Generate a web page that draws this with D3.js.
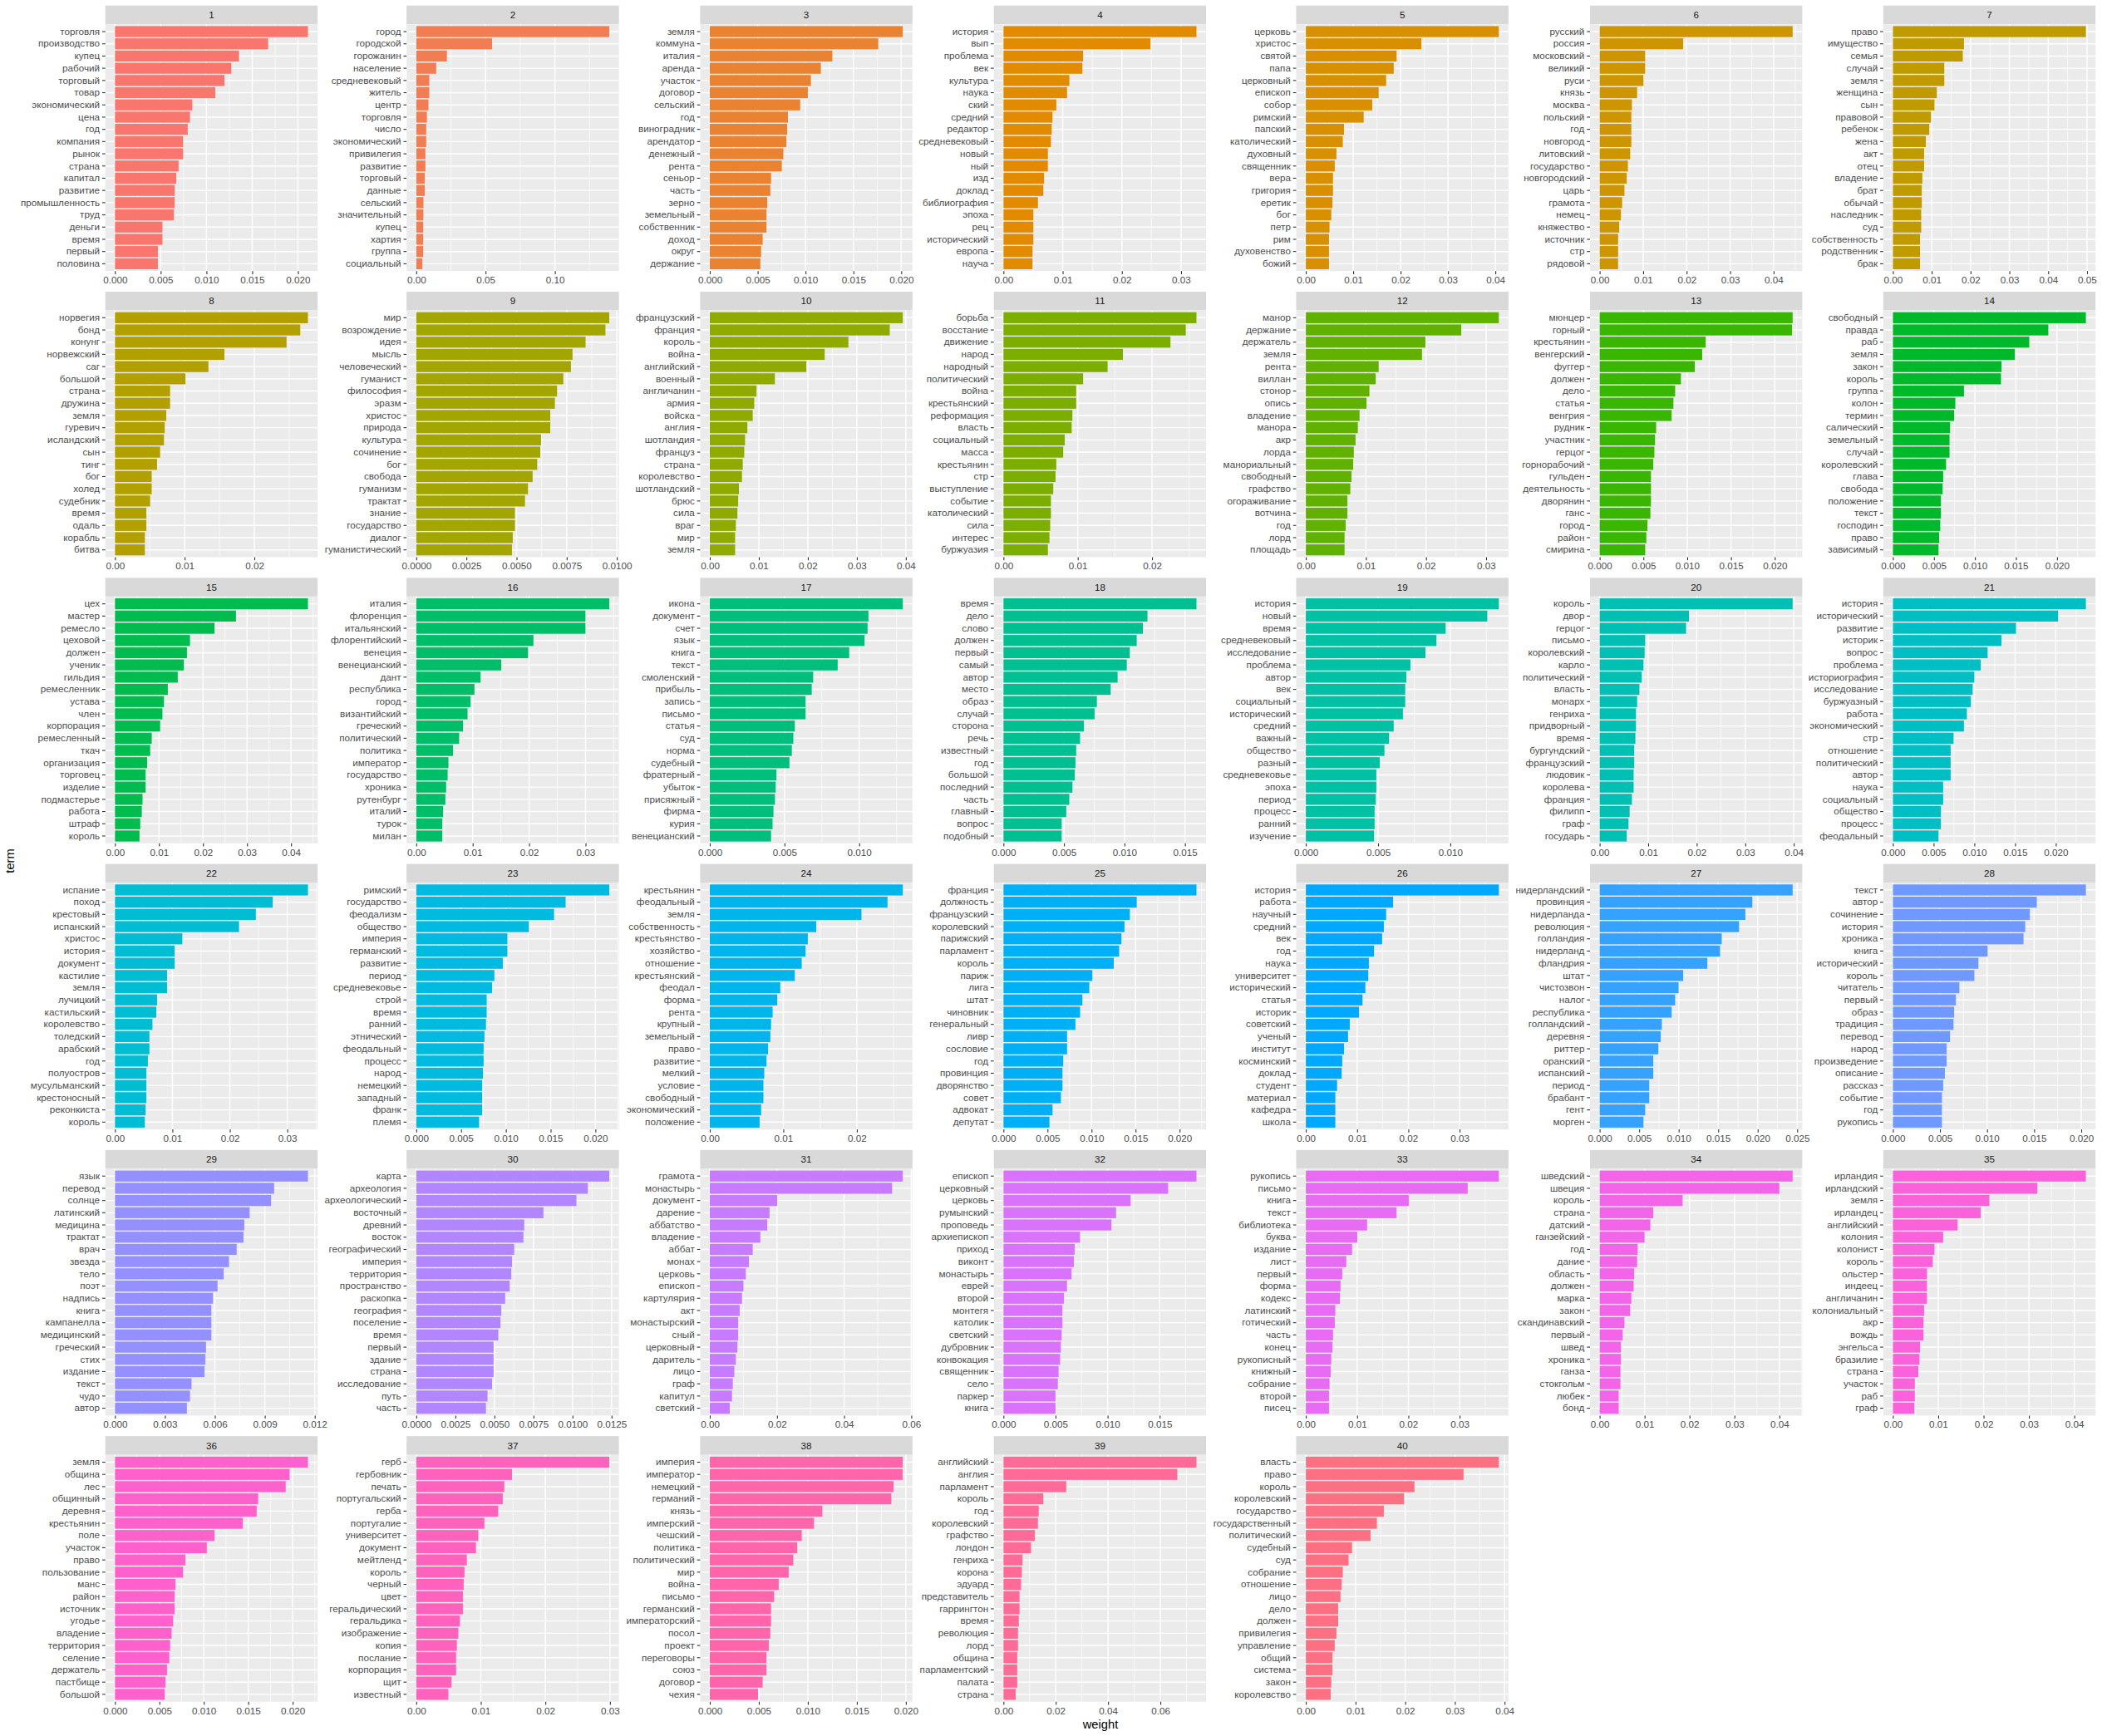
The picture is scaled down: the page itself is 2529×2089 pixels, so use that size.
<!DOCTYPE html>
<html><head><meta charset="utf-8">
<script src="https://cdn.jsdelivr.net/npm/d3@7"></script>
<style>body{margin:0;background:#fff}svg{display:block}</style>
</head><body>
<script>
const topicLabels = d3.range(1, 41).map(String);
const terms = [
["торговля","производство","купец","рабочий","торговый","товар","экономический","цена","год","компания","рынок","страна","капитал","развитие","промышленность","труд","деньги","время","первый","половина"],
["город","городской","горожанин","население","средневековый","житель","центр","торговля","число","экономический","привилегия","развитие","торговый","данные","сельский","значительный","купец","хартия","группа","социальный"],
["земля","коммуна","италия","аренда","участок","договор","сельский","год","виноградник","арендатор","денежный","рента","сеньор","часть","зерно","земельный","собственник","доход","округ","держание"],
["история","вып","проблема","век","культура","наука","ский","средний","редактор","средневековый","новый","ный","изд","доклад","библиография","эпоха","рец","исторический","европа","науча"],
["церковь","христос","святой","папа","церковный","епископ","собор","римский","папский","католический","духовный","священник","вера","григория","еретик","бог","петр","рим","духовенство","божий"],
["русский","россия","московский","великий","руси","князь","москва","польский","год","новгород","литовский","государство","новгородский","царь","грамота","немец","княжество","источник","стр","рядовой"],
["право","имущество","семья","случай","земля","женщина","сын","правовой","ребенок","жена","акт","отец","владение","брат","обычай","наследник","суд","собственность","родственник","брак"],
["норвегия","бонд","конунг","норвежский","саг","большой","страна","дружина","земля","гуревич","исландский","сын","тинг","бог","холед","судебник","время","одаль","корабль","битва"],
["мир","возрождение","идея","мысль","человеческий","гуманист","философия","эразм","христос","природа","культура","сочинение","бог","свобода","гуманизм","трактат","знание","государство","диалог","гуманистический"],
["французский","франция","король","война","английский","военный","англичанин","армия","войска","англия","шотландия","француз","страна","королевство","шотландский","брюс","сила","враг","мир","земля"],
["борьба","восстание","движение","народ","народный","политический","война","крестьянский","реформация","власть","социальный","масса","крестьянин","стр","выступление","событие","католический","сила","интерес","буржуазия"],
["манор","держание","держатель","земля","рента","виллан","стонор","опись","владение","манора","акр","лорда","манориальный","свободный","графство","огораживание","вотчина","год","лорд","площадь"],
["мюнцер","горный","крестьянин","венгерский","фуггер","должен","дело","статья","венгрия","рудник","участник","герцог","горнорабочий","гульден","деятельность","дворянин","ганс","город","район","смирина"],
["свободный","правда","раб","земля","закон","король","группа","колон","термин","салический","земельный","случай","королевский","глава","свобода","положение","текст","господин","право","зависимый"],
["цех","мастер","ремесло","цеховой","должен","ученик","гильдия","ремесленник","устава","член","корпорация","ремесленный","ткач","организация","торговец","изделие","подмастерье","работа","штраф","король"],
["италия","флоренция","итальянский","флорентийский","венеция","венецианский","дант","республика","город","византийский","греческий","политический","политика","император","государство","хроника","рутенбург","италий","турок","милан"],
["икона","документ","счет","язык","книга","текст","смоленский","прибыль","запись","письмо","статья","суд","норма","судебный","фратерный","убыток","присяжный","фирма","курия","венецианский"],
["время","дело","слово","должен","первый","самый","автор","место","образ","случай","сторона","речь","известный","год","большой","последний","часть","главный","вопрос","подобный"],
["история","новый","время","средневековый","исследование","проблема","автор","век","социальный","исторический","средний","важный","общество","разный","средневековье","эпоха","период","процесс","ранний","изучение"],
["король","двор","герцог","письмо","королевский","карло","политический","власть","монарх","генриха","придворный","время","бургундский","французский","людовик","королева","франция","филипп","граф","государь"],
["история","исторический","развитие","историк","вопрос","проблема","историография","исследование","буржуазный","работа","экономический","стр","отношение","политический","автор","наука","социальный","общество","процесс","феодальный"],
["испание","поход","крестовый","испанский","христос","история","документ","кастилие","земля","лучицкий","кастильский","королевство","толедский","арабский","год","полуостров","мусульманский","крестоносный","реконкиста","король"],
["римский","государство","феодализм","общество","империя","германский","развитие","период","средневековье","строй","время","ранний","этнический","феодальный","процесс","народ","немецкий","западный","франк","племя"],
["крестьянин","феодальный","земля","собственность","крестьянство","хозяйство","отношение","крестьянский","феодал","форма","рента","крупный","земельный","право","развитие","мелкий","условие","свободный","экономический","положение"],
["франция","должность","французский","королевский","парижский","парламент","король","париж","лига","штат","чиновник","генеральный","ливр","сословие","год","провинция","дворянство","совет","адвокат","депутат"],
["история","работа","научный","средний","век","год","наука","университет","исторический","статья","историк","советский","ученый","институт","косминский","доклад","студент","материал","кафедра","школа"],
["нидерландский","провинция","нидерланда","революция","голландия","нидерланд","фландрия","штат","чистозвон","налог","республика","голландский","деревня","риттер","оранский","испанский","период","брабант","гент","морген"],
["текст","автор","сочинение","история","хроника","книга","исторический","король","читатель","первый","образ","традиция","перевод","народ","произведение","описание","рассказ","событие","год","рукопись"],
["язык","перевод","солнце","латинский","медицина","трактат","врач","звезда","тело","поэт","надпись","книга","кампанелла","медицинский","греческий","стих","издание","текст","чудо","автор"],
["карта","археология","археологический","восточный","древний","восток","географический","империя","территория","пространство","раскопка","география","поселение","время","первый","здание","страна","исследование","путь","часть"],
["грамота","монастырь","документ","дарение","аббатство","владение","аббат","монах","церковь","епископ","картулярия","акт","монастырский","сный","церковный","даритель","лицо","граф","капитул","светский"],
["епископ","церковный","церковь","румынский","проповедь","архиепископ","приход","виконт","монастырь","еврей","второй","монтегя","католик","светский","дубровник","конвокация","священник","село","паркер","книга"],
["рукопись","письмо","книга","текст","библиотека","буква","издание","лист","первый","форма","кодекс","латинский","готический","часть","конец","рукописный","книжный","собрание","второй","писец"],
["шведский","швеция","король","страна","датский","ганзейский","год","дание","область","должен","марка","закон","скандинавский","первый","швед","хроника","ганза","стокгольм","любек","бонд"],
["ирландия","ирландский","земля","ирландец","английский","колония","колонист","король","ольстер","индеец","англичанин","колониальный","акр","вождь","энгельса","бразилие","страна","участок","раб","граф"],
["земля","община","лес","общинный","деревня","крестьянин","поле","участок","право","пользование","манс","район","источник","угодье","владение","территория","селение","держатель","пастбище","большой"],
["герб","гербовник","печать","португальский","герба","португалие","университет","документ","мейтленд","король","черный","цвет","геральдический","геральдика","изображение","копия","послание","корпорация","щит","известный"],
["империя","император","немецкий","германий","князь","имперский","чешский","политика","политический","мир","война","письмо","германский","императорский","посол","проект","переговоры","союз","договор","чехия"],
["английский","англия","парламент","король","год","королевский","графство","лондон","генриха","корона","эдуард","представитель","гаррингтон","время","революция","лорд","община","парламентский","палата","страна"],
["власть","право","король","королевский","государство","государственный","политический","судебный","суд","собрание","отношение","лицо","дело","должен","привилегия","управление","общий","система","закон","королевство"]
];
const weights = [
[0.02109,0.01674,0.01356,0.01272,0.01197,0.01096,0.00845,0.0082,0.00795,0.00745,0.00745,0.00695,0.0067,0.00653,0.00653,0.00644,0.00519,0.00519,0.00469,0.00469],
[0.1392,0.0547,0.0221,0.0144,0.0094,0.0094,0.0088,0.0077,0.0072,0.0072,0.0066,0.0066,0.0061,0.0061,0.0052,0.0051,0.005,0.005,0.005,0.0044],
[0.02016,0.0176,0.0128,0.0116,0.01056,0.01024,0.00944,0.00816,0.00808,0.008,0.00768,0.00752,0.0064,0.00632,0.006,0.00592,0.00592,0.00552,0.00536,0.00528],
[0.0326,0.02484,0.01345,0.01333,0.01113,0.01074,0.00893,0.00828,0.00815,0.00802,0.0075,0.0075,0.00686,0.00673,0.00582,0.00505,0.00505,0.00505,0.00492,0.00492],
[0.04073,0.02439,0.01915,0.01854,0.01695,0.01537,0.01402,0.0122,0.00805,0.0078,0.00646,0.0061,0.00573,0.00573,0.00561,0.00537,0.005,0.00488,0.00488,0.00488],
[0.04437,0.0192,0.01046,0.01046,0.01007,0.00861,0.00742,0.00728,0.00728,0.00728,0.00702,0.00649,0.00623,0.0057,0.00517,0.0049,0.0045,0.00424,0.00424,0.00424],
[0.0497,0.0183,0.018,0.01324,0.01324,0.01131,0.01071,0.00982,0.00937,0.00848,0.00804,0.00804,0.00759,0.00744,0.00744,0.00729,0.00729,0.00699,0.00699,0.00699],
[0.02769,0.02659,0.02462,0.01571,0.01341,0.01011,0.00791,0.00791,0.00736,0.00714,0.00703,0.00648,0.00604,0.00527,0.00527,0.00505,0.0045,0.0045,0.00429,0.00429],
[0.00962,0.00943,0.00844,0.00779,0.00771,0.00733,0.00702,0.00691,0.00668,0.00668,0.00622,0.00618,0.00603,0.0058,0.00557,0.00542,0.00492,0.00492,0.00481,0.00477],
[0.03938,0.03672,0.02828,0.02344,0.01969,0.01328,0.00953,0.00906,0.00875,0.00766,0.00719,0.00703,0.00672,0.00656,0.00594,0.00578,0.00563,0.00531,0.00516,0.00516],
[0.02598,0.02454,0.02248,0.01608,0.01402,0.01072,0.00979,0.00979,0.00928,0.00918,0.00825,0.00804,0.00711,0.00701,0.0067,0.00639,0.00639,0.00629,0.00619,0.00598],
[0.03212,0.02587,0.0199,0.01933,0.01212,0.01163,0.01058,0.0101,0.00894,0.00865,0.00827,0.00798,0.00788,0.0076,0.0074,0.00692,0.00692,0.00663,0.00644,0.00644],
[0.02204,0.02197,0.01211,0.01171,0.01086,0.00928,0.00862,0.00842,0.00822,0.00645,0.00632,0.00625,0.00612,0.00586,0.00586,0.00586,0.00579,0.00546,0.00533,0.0052],
[0.02352,0.01894,0.01662,0.01486,0.01324,0.01317,0.00866,0.00761,0.00746,0.00697,0.0069,0.0069,0.00648,0.00613,0.00606,0.00585,0.00585,0.00577,0.00563,0.00556],
[0.04383,0.02748,0.02261,0.01704,0.01635,0.01565,0.01426,0.012,0.01113,0.01078,0.01026,0.00835,0.008,0.0073,0.00696,0.00696,0.00626,0.00609,0.00574,0.00557],
[0.0342,0.02999,0.02999,0.02076,0.01981,0.01506,0.0114,0.01031,0.00963,0.00909,0.00828,0.0076,0.00651,0.0057,0.00556,0.00529,0.00516,0.00475,0.00461,0.00461],
[0.01292,0.01062,0.01056,0.01036,0.00933,0.00856,0.00692,0.00682,0.00641,0.00641,0.00569,0.00559,0.00549,0.00533,0.00446,0.00441,0.00436,0.00426,0.0042,0.0041],
[0.01595,0.0119,0.01152,0.01101,0.01044,0.01019,0.00943,0.00886,0.00772,0.00753,0.00665,0.00633,0.00601,0.00595,0.00589,0.0057,0.00544,0.00519,0.00481,0.00481],
[0.01336,0.01256,0.00968,0.00904,0.00828,0.00724,0.00696,0.00688,0.00688,0.00672,0.00608,0.00576,0.00544,0.00512,0.00488,0.00488,0.00484,0.00476,0.00476,0.00472],
[0.03976,0.0184,0.0178,0.00938,0.00926,0.00902,0.00867,0.00819,0.00772,0.00748,0.00748,0.00736,0.00712,0.00712,0.007,0.007,0.00665,0.00617,0.00594,0.00558],
[0.02369,0.02028,0.01511,0.01333,0.01163,0.01078,0.01,0.00979,0.00957,0.00908,0.00872,0.00745,0.00709,0.00709,0.00709,0.00617,0.00617,0.00589,0.00589,0.0056],
[0.0336,0.02747,0.02453,0.0216,0.01173,0.0104,0.0104,0.00907,0.00907,0.00733,0.0072,0.00653,0.006,0.006,0.00573,0.00547,0.00547,0.00547,0.00533,0.0052],
[0.02154,0.01667,0.01538,0.01256,0.01017,0.01017,0.00966,0.00872,0.00846,0.00786,0.00786,0.00778,0.00761,0.00752,0.00752,0.00744,0.00735,0.00735,0.00735,0.00701],
[0.02625,0.02417,0.02063,0.01448,0.01333,0.01302,0.0125,0.01156,0.00958,0.00917,0.00854,0.00833,0.00823,0.00792,0.00771,0.0074,0.00729,0.00729,0.00698,0.00677],
[0.02191,0.01513,0.01435,0.01374,0.01339,0.01313,0.01252,0.01009,0.00974,0.00896,0.0087,0.00817,0.00722,0.00722,0.00678,0.0067,0.0067,0.00652,0.00557,0.00522],
[0.03765,0.01702,0.01567,0.01522,0.01488,0.0133,0.01229,0.01218,0.01161,0.01105,0.01037,0.00857,0.00823,0.00744,0.0071,0.00699,0.00609,0.00575,0.00575,0.00575],
[0.02442,0.01932,0.01844,0.01764,0.01545,0.01523,0.01363,0.01057,0.00999,0.00955,0.00911,0.00787,0.00773,0.00743,0.00678,0.00678,0.00627,0.00627,0.00576,0.00554],
[0.02049,0.01528,0.01454,0.01405,0.01387,0.01006,0.00908,0.00865,0.00706,0.00669,0.0065,0.00644,0.00607,0.00571,0.00571,0.00552,0.00534,0.00521,0.00521,0.00521],
[0.01159,0.00956,0.00938,0.00809,0.00777,0.00772,0.00731,0.00685,0.00653,0.00616,0.00589,0.00579,0.00579,0.00579,0.00547,0.00543,0.00538,0.0046,0.00451,0.00432],
[0.01235,0.01098,0.01025,0.00814,0.00691,0.00686,0.00627,0.00613,0.00608,0.00598,0.00569,0.00544,0.00539,0.00525,0.00495,0.00495,0.00495,0.00485,0.00456,0.00446],
[0.05747,0.05428,0.02007,0.01779,0.0171,0.01505,0.01277,0.01163,0.01072,0.01003,0.00958,0.00889,0.00844,0.00844,0.00821,0.00775,0.0073,0.00684,0.00661,0.00593],
[0.01853,0.01581,0.01221,0.01081,0.01037,0.00735,0.00684,0.00676,0.00654,0.0061,0.00581,0.00566,0.00566,0.00559,0.00551,0.00544,0.00529,0.00522,0.005,0.005],
[0.03765,0.03157,0.02007,0.0177,0.01195,0.01003,0.00902,0.00789,0.0071,0.00676,0.00665,0.00575,0.00564,0.0053,0.00519,0.00496,0.00485,0.00462,0.00451,0.00451],
[0.04295,0.04,0.01846,0.01192,0.01128,0.01,0.00846,0.00833,0.00769,0.00756,0.00705,0.00679,0.00551,0.00513,0.00474,0.00474,0.00462,0.00462,0.00423,0.00423],
[0.04255,0.03185,0.02127,0.01936,0.01427,0.01108,0.00917,0.00879,0.00752,0.00752,0.00752,0.00688,0.00675,0.00675,0.00599,0.00586,0.00561,0.00484,0.00484,0.00471],
[0.02172,0.01966,0.01922,0.01612,0.01595,0.0144,0.01121,0.01034,0.00793,0.00767,0.00681,0.00672,0.00672,0.00655,0.00638,0.00621,0.00612,0.00586,0.00569,0.0056],
[0.02989,0.01483,0.01364,0.0134,0.01269,0.01056,0.00961,0.00925,0.00783,0.00747,0.00735,0.00723,0.00723,0.00676,0.00652,0.00629,0.00617,0.00617,0.00546,0.00498],
[0.01969,0.01968,0.01875,0.01852,0.01148,0.01063,0.00938,0.00891,0.00852,0.00805,0.00703,0.00656,0.00625,0.00625,0.00617,0.00602,0.00578,0.00578,0.00539,0.00492],
[0.07379,0.06647,0.02401,0.01523,0.01347,0.01318,0.012,0.01054,0.00732,0.00703,0.00673,0.00615,0.00615,0.00586,0.00556,0.00556,0.00527,0.00527,0.00527,0.00468],
[0.03884,0.03174,0.02186,0.01977,0.0157,0.0143,0.01302,0.0093,0.0086,0.00744,0.00721,0.00698,0.00651,0.00651,0.00616,0.00581,0.00535,0.00535,0.00512,0.005]
];
const tickSteps = [
0.005,0.05,0.005,0.01,0.01,0.01,0.01,
0.01,0.0025,0.01,0.01,0.01,0.005,0.005,
0.01,0.01,0.005,0.005,0.005,0.01,0.005,
0.01,0.005,0.01,0.005,0.01,0.005,0.005,
0.003,0.0025,0.02,0.005,0.01,0.01,0.01,
0.005,0.01,0.005,0.02,0.01];
const xTitle = "weight", yTitle = "term";

// ggplot2 hue palette (polar LUV -> sRGB)
function hclLuv(h, c, l) {
  const Xn = 95.047, Yn = 100, Zn = 108.883;
  const hr = h * Math.PI / 180;
  const U = c * Math.cos(hr), V = c * Math.sin(hr);
  const Y = l > 7.999592 ? Yn * Math.pow((l + 16) / 116, 3) : Yn * l / 903.3;
  const t = Xn + Yn + Zn, x = Xn / t, y = Yn / t;
  const uN = 2 * x / (6 * y - x + 1.5), vN = 4.5 * y / (6 * y - x + 1.5);
  const u = U / (13 * l) + uN, v = V / (13 * l) + vN;
  const X = 9 * Y * u / (4 * v);
  const Z = -X / 3 - 5 * Y + 3 * Y / v;
  const xx = X / 100, yy = Y / 100, zz = Z / 100;
  const lin = [
    3.240479 * xx - 1.537150 * yy - 0.498535 * zz,
    -0.969256 * xx + 1.875992 * yy + 0.041556 * zz,
    0.055648 * xx - 0.204043 * yy + 1.057311 * zz];
  const g = lin.map(vv => {
    let s = vv <= 0.0031308 ? 12.92 * vv : 1.055 * Math.pow(vv, 1 / 2.4) - 0.055;
    return Math.round(Math.max(0, Math.min(1, s)) * 255);
  });
  return d3.rgb(g[0], g[1], g[2]).formatHex();
}
const nTopics = topicLabels.length;
const colors = topicLabels.map((_, i) => hclLuv(15 + 360 / nTopics * i, 100, 65));

const W = 2529, H = 2089;
const FONT = '"Liberation Sans", Arial, Helvetica, sans-serif';
const colLefts = [126.7, 489.2, 842.4, 1195.7, 1559.5, 1913.0, 2265.8];
const panelW = 255.4;
const rowTop0 = 6.7, rowPitch = 344.3, stripH = 22.5, panelH = 297;
const tickLen = 3.7, tickPad = 2.9, fs = 11.7;

const svg = d3.select("body").append("svg").attr("width", W).attr("height", H)
  .style("font-family", FONT);
svg.append("rect").attr("width", W).attr("height", H).attr("fill", "#fff");

topicLabels.forEach((lab, k) => {
  const r = Math.floor(k / 7), c = k % 7;
  const x0 = colLefts[c], sy = rowTop0 + r * rowPitch, py = sy + stripH;
  const vals = weights[k], tms = terms[k];
  const maxW = d3.max(vals);
  const x = d3.scaleLinear().domain([-0.05 * maxW, 1.05 * maxW]).range([x0, x0 + panelW]);
  const idx = d3.range(tms.length);
  const y = d3.scaleBand().domain(idx).range([py, py + panelH]).paddingInner(0.1).paddingOuter(0.15);
  const step = tickSteps[k];
  const dec = (String(step).split(".")[1] || "").length;
  const dmax = x.domain()[1], dmin = x.domain()[0];
  const ticks = [];
  for (let i = 0; i * step <= dmax + 1e-12; i++) ticks.push(+(i * step).toFixed(8));
  const minors = [];
  for (let i = -1; i < ticks.length; i++) {
    const m = (i + 0.5) * step;
    if (m >= dmin && m <= dmax) minors.push(m);
  }
  const g = svg.append("g");
  // strip
  g.append("rect").attr("x", x0).attr("y", sy).attr("width", panelW).attr("height", stripH).attr("fill", "#D9D9D9");
  g.append("text").attr("x", x0 + panelW / 2).attr("y", sy + stripH / 2).attr("dy", "0.35em")
    .attr("text-anchor", "middle").attr("font-size", fs).attr("fill", "#1A1A1A").text(lab);
  // panel
  g.append("rect").attr("x", x0).attr("y", py).attr("width", panelW).attr("height", panelH).attr("fill", "#EBEBEB");
  g.selectAll(".mn").data(minors).enter().append("line")
    .attr("x1", d => x(d)).attr("x2", d => x(d)).attr("y1", py).attr("y2", py + panelH)
    .attr("stroke", "#fff").attr("stroke-width", 0.7);
  g.selectAll(".mj").data(ticks).enter().append("line")
    .attr("x1", d => x(d)).attr("x2", d => x(d)).attr("y1", py).attr("y2", py + panelH)
    .attr("stroke", "#fff").attr("stroke-width", 1.4);
  g.selectAll(".hj").data(idx).enter().append("line")
    .attr("x1", x0).attr("x2", x0 + panelW)
    .attr("y1", d => y(d) + y.bandwidth() / 2).attr("y2", d => y(d) + y.bandwidth() / 2)
    .attr("stroke", "#fff").attr("stroke-width", 1.4);
  // bars
  g.selectAll(".bar").data(idx).enter().append("rect")
    .attr("x", x(0)).attr("y", d => y(d))
    .attr("width", d => x(vals[d]) - x(0)).attr("height", y.bandwidth())
    .attr("fill", colors[k]);
  // axes
  const ya = g.append("g").attr("transform", `translate(${x0},0)`)
    .call(d3.axisLeft(y).tickSize(tickLen).tickPadding(tickPad).tickFormat(i => tms[i]));
  const xa = g.append("g").attr("transform", `translate(0,${py + panelH})`)
    .call(d3.axisBottom(x).tickValues(ticks).tickSize(tickLen).tickPadding(tickPad).tickFormat(d3.format(`.${dec}f`)));
  [ya, xa].forEach(a => {
    a.attr("font-family", FONT).attr("font-size", fs);
    a.select(".domain").remove();
    a.selectAll(".tick line").attr("stroke", "#333333").attr("stroke-width", 1.1);
    a.selectAll(".tick text").attr("fill", "#4D4D4D");
  });
});

svg.append("text").attr("x", 1324).attr("y", 2075).attr("dy", "0.32em")
  .attr("text-anchor", "middle").attr("font-size", 14.7).attr("fill", "#000").text(xTitle);
svg.append("text").attr("transform", "translate(12,1036) rotate(-90)").attr("dy", "0.35em")
  .attr("text-anchor", "middle").attr("font-size", 14.7).attr("fill", "#000").text(yTitle);
</script>
</body></html>
